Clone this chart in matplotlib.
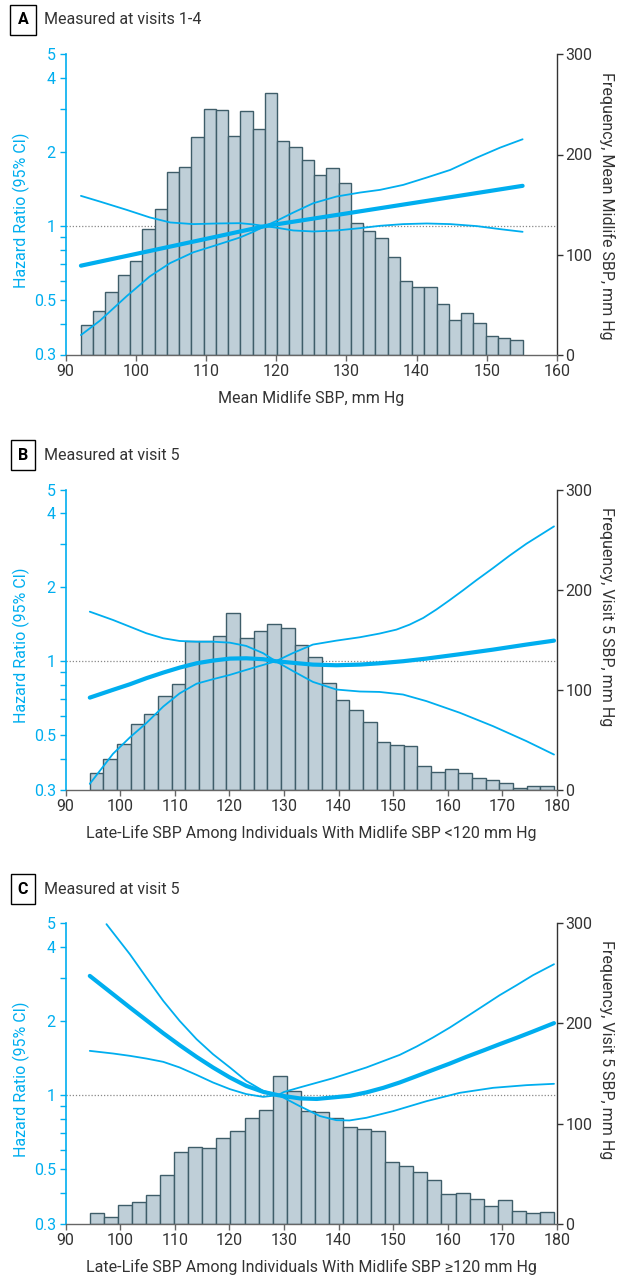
import numpy as np
import matplotlib
matplotlib.use("Agg")
import matplotlib.pyplot as plt
from matplotlib.ticker import FixedLocator, NullFormatter, FixedFormatter
from matplotlib.transforms import blended_transform_factory

plt.rcParams['font.family'] = ['Roboto', 'DejaVu Sans']

BLUE = '#00AEEF'
FILL = '#BFCFD8'
EDGE = '#3E5D69'
DARK = '#333333'

# ---------------- Panel A data ----------------
a_bin_start = 92.2
a_bin_width = 1.747
a_counts = [30, 44, 63, 80, 94, 126, 146, 183, 188, 218, 246, 245, 219, 244, 226, 262,
            214, 208, 195, 180, 187, 172, 132, 124, 117, 98, 74, 68, 68, 51, 35, 42,
            32, 19, 17, 15]
a_main_x = [92.2, 100, 110, 118.4, 130, 140, 155.1]
a_main = [0.69, 0.77, 0.887, 1.0, 1.126, 1.248, 1.459]
a_ci_x = [92.2, 94.9, 98.7, 102.0, 104.9, 108.2, 111.5, 114.85, 116.75, 118.4, 120.08,
          122.45, 125.3, 128.6, 131.95, 134.8, 138.1, 141.45, 144.8, 148.6, 151.9, 155.1]
a_upper = [1.328, 1.259, 1.165, 1.085, 1.035, 1.019, 1.025, 1.028, 1.016, 1.0, 1.051,
           1.136, 1.240, 1.320, 1.370, 1.405, 1.472, 1.577, 1.694, 1.902, 2.088, 2.258]
a_lower = [0.360, 0.412, 0.518, 0.624, 0.707, 0.782, 0.837, 0.899, 0.948, 1.0, 0.985,
           0.960, 0.951, 0.960, 0.981, 1.003, 1.019, 1.025, 1.019, 1.0, 0.972, 0.948]

# ---------------- Panel B data ----------------
b_bin_start = 94.45
b_bin_width = 2.5
b_counts = [17, 31, 46, 66, 76, 94, 106, 149, 149, 154, 177, 152, 159, 166, 162, 145,
            133, 107, 90, 80, 68, 48, 45, 44, 24, 18, 21, 17, 12, 10, 7, 2, 4, 4]
b_main_x = [94.45, 98.7, 101.8, 104.8, 107.9, 110.9, 114.0, 117.0, 120.1, 123.1, 126.2,
            128.5, 131.7, 135.3, 139.6, 143.9, 147.5, 151.8, 156.1, 162.2, 168.3, 174.4,
            179.45]
b_main = [0.711, 0.765, 0.806, 0.853, 0.899, 0.942, 0.981, 1.006, 1.025, 1.028, 1.019,
          1.0, 0.985, 0.969, 0.963, 0.969, 0.981, 1.0, 1.025, 1.068, 1.115, 1.169, 1.213]
b_upper_x = [94.45, 98.7, 101.8, 104.8, 107.9, 110.9, 114.0, 117.0, 120.1, 123.1, 126.2,
             128.5, 131.7, 135.3, 139.6, 143.9, 147.5, 150.6, 153.0, 155.5, 157.9, 160.3,
             162.8, 165.2, 168.3, 171.3, 174.4, 179.45]
b_upper = [1.591, 1.472, 1.382, 1.300, 1.240, 1.209, 1.201, 1.201, 1.190, 1.154, 1.078,
           1.0, 1.081, 1.169, 1.213, 1.252, 1.296, 1.345, 1.409, 1.500, 1.623, 1.770,
           1.944, 2.134, 2.395, 2.689, 3.008, 3.538]
b_lower_x = [94.45, 98.7, 101.8, 104.8, 107.9, 110.9, 114.0, 117.0, 120.1, 123.1, 126.2,
             128.5, 131.7, 135.3, 139.6, 143.9, 147.5, 151.8, 156.1, 162.2, 168.3, 174.4,
             179.45]
b_lower = [0.317, 0.42, 0.49, 0.56, 0.654, 0.74, 0.81, 0.845, 0.88, 0.922, 0.966,
           1.0, 0.911, 0.824, 0.767, 0.753, 0.750, 0.732, 0.688, 0.617, 0.544, 0.473, 0.417]

# ---------------- Panel C data ----------------
c_bin_start = 94.45
c_bin_width = 2.576
c_counts = [11, 7, 19, 22, 29, 49, 72, 77, 76, 86, 93, 106, 114, 148, 133, 113, 112,
            106, 97, 95, 93, 62, 58, 52, 44, 30, 31, 25, 18, 24, 13, 11, 12]
c_main_x = [94.45, 98.7, 101.8, 104.8, 107.9, 110.9, 114.0, 117.0, 120.1, 123.1, 126.2,
            128.9, 132.9, 136.0, 139.0, 142.1, 145.1, 148.2, 151.2, 154.3, 157.3, 160.4,
            163.4, 166.5, 169.5, 172.6, 175.6, 179.45]
c_main = [3.055, 2.574, 2.272, 2.018, 1.786, 1.597, 1.431, 1.296, 1.180, 1.091, 1.031,
          1.0, 0.970, 0.965, 0.979, 0.994, 1.026, 1.071, 1.126, 1.195, 1.267, 1.345,
          1.431, 1.519, 1.612, 1.710, 1.815, 1.963]
c_upper_x = [97.5, 101.8, 104.8, 107.9, 110.9, 114.0, 117.0, 120.1, 123.1, 126.2, 128.9,
             130, 132.9, 139.0, 145.1, 151.2, 154.3, 157.3, 160.4, 163.4, 166.5, 169.5,
             172.6, 175.6, 179.45]
c_upper = [4.96, 3.74, 3.01, 2.418, 2.005, 1.689, 1.468, 1.296, 1.143, 1.041, 1.0,
           1.03, 1.075, 1.172, 1.296, 1.458, 1.577, 1.716, 1.885, 2.081, 2.307, 2.55,
           2.80, 3.075, 3.408]
c_lower_x = [94.45, 98.7, 101.8, 104.8, 107.9, 110.9, 114.0, 117.0, 120.1, 123.1, 126.2,
             128.9, 130, 132.9, 136.6, 139.6, 142.0, 145.1, 150.0, 156.1, 162.2, 168.3,
             174.4, 179.45]
c_lower = [1.514, 1.477, 1.445, 1.409, 1.366, 1.296, 1.209, 1.126, 1.058, 1.01, 0.984,
           1.0, 0.975, 0.902, 0.822, 0.791, 0.789, 0.809, 0.861, 0.945, 1.022, 1.071,
           1.098, 1.112]

hr_major = [0.3, 0.5, 1, 2, 4, 5]
hr_major_lbl = ['0.3', '0.5', '1', '2', '4', '5']
hr_minor = [0.4, 0.6, 0.7, 0.8, 0.9, 3]
freq_ticks = [0, 100, 200, 300]

W, H = 622, 1276
fig = plt.figure(figsize=(W / 100, H / 100), dpi=100)

TICK_FS = 11.5
LAB_FS = 11.5


def rect(top, bottom, left=65.5, right=557.0):
    return [left / W, 1 - bottom / H, (right - left) / W, (bottom - top) / H]


def panel(r, xlim, xticks, bin_start, bin_width, counts, curves, xlabel, rlabel,
          letter, title, title_y):
    ax = fig.add_axes(r)
    axb = ax.twinx()
    ax.set_zorder(2)
    axb.set_zorder(1)
    ax.patch.set_visible(False)
    axb.patch.set_visible(False)

    # histogram on the right axis
    edges = bin_start + bin_width * np.arange(len(counts))
    axb.bar(edges, counts, width=bin_width, align='edge', color=FILL,
            edgecolor=EDGE, linewidth=1.0, zorder=2)
    axb.set_ylim(0, 300)
    axb.set_yticks(freq_ticks)
    axb.set_yticklabels([str(t) for t in freq_ticks])
    for s in ['left', 'top', 'bottom']:
        axb.spines[s].set_visible(False)
    axb.spines['right'].set_color(DARK)
    axb.spines['right'].set_linewidth(1.0)
    axb.tick_params(axis='y', direction='out', length=4, width=1.0, colors=DARK,
                    labelsize=TICK_FS, pad=2)

    # reference dotted line at HR = 1 (behind bars)
    tr = blended_transform_factory(axb.transAxes, ax.transData)
    axb.plot([0, 1], [1, 1], transform=tr, color='#888888', lw=0.9,
             linestyle=(0, (1, 1.5)), zorder=1)

    # curves on left log axis
    for (xs, ys, lw) in curves:
        ax.plot(xs, ys, color=BLUE, lw=lw, solid_capstyle='round',
                solid_joinstyle='round', zorder=3)
    ax.set_yscale('log')
    ax.set_ylim(0.3, 5)
    ax.yaxis.set_major_locator(FixedLocator(hr_major))
    ax.yaxis.set_major_formatter(FixedFormatter(hr_major_lbl))
    ax.yaxis.set_minor_locator(FixedLocator(hr_minor))
    ax.yaxis.set_minor_formatter(NullFormatter())
    ax.tick_params(axis='y', which='both', direction='out', length=4, width=1.0,
                   colors=BLUE, labelsize=TICK_FS, pad=3)
    ax.set_xlim(*xlim)
    ax.set_xticks(xticks)
    ax.set_xticklabels([str(t) for t in xticks])
    ax.tick_params(axis='x', direction='out', length=4, width=1.0, colors='#666666',
                   labelcolor=DARK, labelsize=TICK_FS, pad=3)
    ax.spines['top'].set_visible(False)
    ax.spines['right'].set_visible(False)
    ax.spines['left'].set_color(BLUE)
    ax.spines['left'].set_linewidth(1.2)
    ax.spines['bottom'].set_color('#666666')
    ax.spines['bottom'].set_linewidth(1.0)

    # labels
    ax.text(-0.0905, 0.48, 'Hazard Ratio (95% CI)', transform=ax.transAxes,
            rotation=90, ha='center', va='center', color=BLUE, fontsize=LAB_FS)
    ax.text(1.1017, 1 - 17 / 300, rlabel, transform=ax.transAxes, rotation=-90,
            ha='center', va='top', color=DARK, fontsize=LAB_FS)
    ax.text(0.5, -43 / 300, xlabel, transform=ax.transAxes, ha='center',
            va='center', color=DARK, fontsize=LAB_FS)

    # panel title
    fig.text(23 / W, 1 - title_y / H, letter, ha='center', va='center',
             fontsize=11.5, weight='bold', color='black',
             bbox=dict(boxstyle='square,pad=0.45', fc='white', ec='black', lw=1.0))
    fig.text(44 / W, 1 - title_y / H, title, ha='left', va='center',
             fontsize=LAB_FS, color=DARK)
    return ax


THICK = 3.0
THIN = 1.3

panel(rect(54.5, 354.5), (90, 160), [90, 100, 110, 120, 130, 140, 150, 160],
      a_bin_start, a_bin_width, a_counts,
      [(a_ci_x, a_upper, THIN), (a_ci_x, a_lower, THIN), (a_main_x, a_main, THICK)],
      'Mean Midlife SBP, mm Hg', 'Frequency, Mean Midlife SBP, mm Hg',
      'A', 'Measured at visits 1-4', 20)

panel(rect(489.5, 789.7), (90, 180), list(range(90, 181, 10)),
      b_bin_start, b_bin_width, b_counts,
      [(b_upper_x, b_upper, THIN), (b_lower_x, b_lower, THIN), (b_main_x, b_main, THICK)],
      'Late-Life SBP Among Individuals With Midlife SBP <120 mm Hg',
      'Frequency, Visit 5 SBP, mm Hg', 'B', 'Measured at visit 5', 455)

panel(rect(923.3, 1223.7), (90, 180), list(range(90, 181, 10)),
      c_bin_start, c_bin_width, c_counts,
      [(c_upper_x, c_upper, THIN), (c_lower_x, c_lower, THIN), (c_main_x, c_main, THICK)],
      'Late-Life SBP Among Individuals With Midlife SBP \u2265120 mm Hg',
      'Frequency, Visit 5 SBP, mm Hg', 'C', 'Measured at visit 5', 889)

fig.savefig('out.png', dpi=100)
